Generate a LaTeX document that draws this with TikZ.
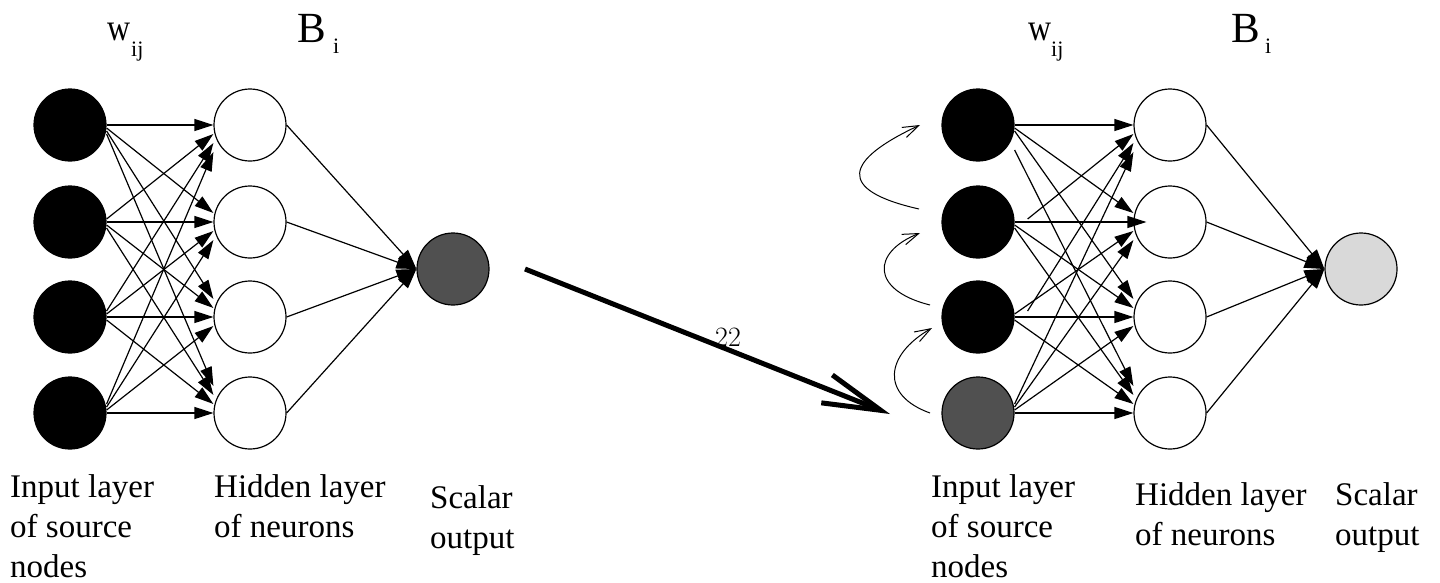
\documentclass[tikz,border=0pt]{standalone}
\usepackage{fontspec}
\newfontfamily\tnr{Liberation Serif}
\usetikzlibrary{arrows.meta,calc}
\definecolor{darkg}{HTML}{505050}
\definecolor{lightg}{HTML}{D9D9D9}
\tikzset{
  neuron/.style={circle,draw=black,line width=1.2pt,minimum size=72pt,inner sep=0pt},
  inp/.style={neuron,fill=black},
  hid/.style={neuron,fill=white},
  conn/.style={line width=1.2pt,-{Triangle[length=19pt,width=12pt]}},
  outconn/.style={line width=1.2pt,-{Triangle[length=20pt,width=13pt]}},
  bigarrow/.style={line width=5pt,-{Straight Barb[length=58pt,width=30pt,line width=5pt]}},
  loopy/.style={line width=1pt,-{Straight Barb[length=16pt,width=11pt,line width=1pt]}},
  lbl/.style={anchor=base west,inner sep=0pt,font=\tnr\fontsize{33}{40}\selectfont,align=left},
  big/.style={anchor=base west,inner sep=0pt,font=\tnr\fontsize{43}{50}\selectfont},
  wlbl/.style={anchor=base west,inner sep=0pt,font=\tnr\fontsize{38}{44}\selectfont},
  sub/.style={anchor=base west,inner sep=0pt,font=\tnr\fontsize{22}{26}\selectfont}
}
\begin{document}
\begin{tikzpicture}[x=1pt,y=-1pt]
\useasboundingbox (0,0) rectangle (1440,582);
% ---------- left network ----------
\foreach \k/\yy in {1/125,2/222,3/317,4/413}{
  \node[inp] (Li\k) at (70,\yy) {};
  \node[hid] (Lh\k) at (250,\yy) {};
}
\node[neuron,fill=darkg] (Lo) at (453,269) {};
\foreach \a in {1,...,4}{
  \foreach \b in {1,...,4}{
    \pgfmathsetmacro\es{-(\a-\b)*9}
    \pgfmathsetmacro\ss{-(\b-\a)*3}
    \draw[conn] ([yshift=\ss pt]Li\a.east) -- ([yshift=\es pt]Lh\b.west);
  }
  \draw[outconn] (Lh\a.east) -- (Lo.west);
}
% ---------- right network ----------
\foreach \k/\yy in {1/125,2/222,3/317}{
  \node[inp] (Ri\k) at (978,\yy) {};
}
\node[neuron,fill=darkg] (Ri4) at (978,413) {};
\foreach \k/\yy in {1/125,2/222,3/317,4/413}{
  \node[hid] (Rh\k) at (1170,\yy) {};
}
\node[neuron,fill=lightg] (Ro) at (1361,269) {};
\foreach \a in {1,...,4}{
  \foreach \b in {1,...,4}{
    \pgfmathsetmacro\es{-(\a-\b)*9}
    \pgfmathsetmacro\ss{-(\b-\a)*3}
    \pgfmathsetmacro\sx{((\a==2 || \a==3) && \b==1) ? 13 : 0}
    \pgfmathsetmacro\ex{(\a==2 && \b==2) ? 13 : 0}
    \pgfmathsetmacro\ssy{(\a==1 && \b==4) ? -25 : \ss}
    \draw[conn] ([xshift=\sx pt,yshift=\ssy pt]Ri\a.east) -- ([xshift=\ex pt,yshift=\es pt]Rh\b.west);
  }
  \draw[outconn] (Rh\a.east) -- (Ro.west);
}
% curved arrows
\coordinate (c1s) at (919,209); \coordinate (c1e) at (920,125);
\coordinate (c2s) at (930,305); \coordinate (c2e) at (920,233);
\coordinate (c3s) at (930,413); \coordinate (c3e) at (932,328);
\draw[loopy] (c1s) .. controls (835,190) and (845,160) .. (c1e);
\draw[loopy] (c2s) .. controls (870,290) and (872,252) .. (c2e);
\draw[loopy] (c3s) .. controls (880,395) and (885,355) .. (c3e);
% big arrow
\coordinate (bs) at (525,269);
\coordinate (be) at (890,414);
\draw[bigarrow] (bs) -- (be);
\node[inner sep=0pt,font=\fontsize{28}{32}\selectfont] (lab22) at (728,337) {22};
% titles
\node[wlbl] (Lw) at (107,40) {\scalebox{0.84}[1]{w}};
\node[sub] (Lwij) at (131,56) {ij};
\node[big] (LB) at (297,42) {B};
\node[sub] (LBi) at (333,53) {i};
\node[wlbl] (Rw) at (1028,40) {\scalebox{0.84}[1]{w}};
\node[sub] (Rwij) at (1051,56) {ij};
\node[big] (RB) at (1231,42) {B};
\node[sub] (RBi) at (1265,53) {i};
% bottom labels (base anchor = last line's baseline)
\node[lbl] (Lt1) at (10,577) {Input layer\\of source\\nodes};
\node[lbl] (Lt2) at (214,537) {Hidden layer\\of neurons};
\node[lbl] (Lt3) at (430,548) {Scalar\\output};
\node[lbl] (Rt1) at (931,577) {Input layer\\of source\\nodes};
\node[lbl] (Rt2) at (1135,545) {Hidden layer\\of neurons};
\node[lbl] (Rt3) at (1335,545) {Scalar\\output};
\end{tikzpicture}
\end{document}
